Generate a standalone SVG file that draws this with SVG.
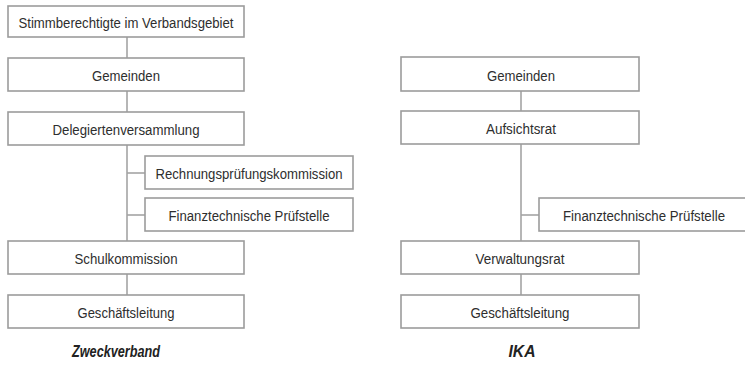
<svg xmlns="http://www.w3.org/2000/svg" width="745" height="369" viewBox="0 0 745 369">
<style>
.box{fill:#fff;stroke:#9c9c9c;stroke-width:1.6}
.lbl{font-family:"Liberation Sans",Arial,sans-serif;font-size:15.5px;fill:#2e2e2e;text-anchor:middle}
.ttl{font-family:"Liberation Sans",Arial,sans-serif;font-size:16px;font-weight:bold;font-style:italic;fill:#222;text-anchor:middle}
.con{stroke:#a4a4a4;stroke-width:1.6;fill:none}
</style>
<rect width="745" height="369" fill="#fff"/>
<g id="connectors">
<line class="con" x1="127" y1="37" x2="127" y2="58"/>
<line class="con" x1="127" y1="91" x2="127" y2="112"/>
<line class="con" x1="127" y1="145" x2="127" y2="241"/>
<line class="con" x1="127" y1="173" x2="145" y2="173"/>
<line class="con" x1="127" y1="215" x2="145" y2="215"/>
<line class="con" x1="127" y1="274" x2="127" y2="295"/>
<line class="con" x1="521" y1="91" x2="521" y2="111"/>
<line class="con" x1="521" y1="144" x2="521" y2="241"/>
<line class="con" x1="521" y1="215" x2="539" y2="215"/>
<line class="con" x1="521" y1="274" x2="521" y2="295"/>
</g>
<g id="z_stimm"><rect class="box" x="8" y="6" width="236" height="31"/><text class="lbl" x="126" y="28" textLength="215" lengthAdjust="spacingAndGlyphs">Stimmberechtigte im Verbandsgebiet</text></g>
<g id="z_gemeinden"><rect class="box" x="8" y="58" width="236" height="33"/><text class="lbl" x="126" y="81" textLength="68" lengthAdjust="spacingAndGlyphs">Gemeinden</text></g>
<g id="z_deleg"><rect class="box" x="8" y="112" width="236" height="33"/><text class="lbl" x="126" y="135" textLength="147" lengthAdjust="spacingAndGlyphs">Delegiertenversammlung</text></g>
<g id="z_rpk"><rect class="box" x="145" y="156" width="208" height="33"/><text class="lbl" x="249" y="179" textLength="187" lengthAdjust="spacingAndGlyphs">Rechnungsprüfungskommission</text></g>
<g id="z_fin"><rect class="box" x="145" y="198" width="208" height="33"/><text class="lbl" x="249" y="221" textLength="161" lengthAdjust="spacingAndGlyphs">Finanztechnische Prüfstelle</text></g>
<g id="z_schul"><rect class="box" x="8" y="241" width="236" height="33"/><text class="lbl" x="126" y="264" textLength="103" lengthAdjust="spacingAndGlyphs">Schulkommission</text></g>
<g id="z_gl"><rect class="box" x="8" y="295" width="236" height="33"/><text class="lbl" x="126" y="318" textLength="97" lengthAdjust="spacingAndGlyphs">Geschäftsleitung</text></g>
<g id="z_title"><text class="ttl" x="116" y="357" textLength="88" lengthAdjust="spacingAndGlyphs">Zweckverband</text></g>
<g id="i_gemeinden"><rect class="box" x="401" y="57" width="238" height="34"/><text class="lbl" x="521" y="81" textLength="68" lengthAdjust="spacingAndGlyphs">Gemeinden</text></g>
<g id="i_aufsicht"><rect class="box" x="401" y="111" width="238" height="33"/><text class="lbl" x="521" y="134" textLength="70" lengthAdjust="spacingAndGlyphs">Aufsichtsrat</text></g>
<g id="i_fin"><rect class="box" x="539" y="198" width="207" height="33"/><text class="lbl" x="644" y="221" textLength="162" lengthAdjust="spacingAndGlyphs">Finanztechnische Prüfstelle</text></g>
<g id="i_verw"><rect class="box" x="401" y="241" width="238" height="33"/><text class="lbl" x="520" y="264" textLength="89" lengthAdjust="spacingAndGlyphs">Verwaltungsrat</text></g>
<g id="i_gl"><rect class="box" x="401" y="295" width="238" height="33"/><text class="lbl" x="520" y="318" textLength="99" lengthAdjust="spacingAndGlyphs">Geschäftsleitung</text></g>
<g id="i_title"><text class="ttl" x="522" y="357" textLength="27" lengthAdjust="spacingAndGlyphs">IKA</text></g>
</svg>
